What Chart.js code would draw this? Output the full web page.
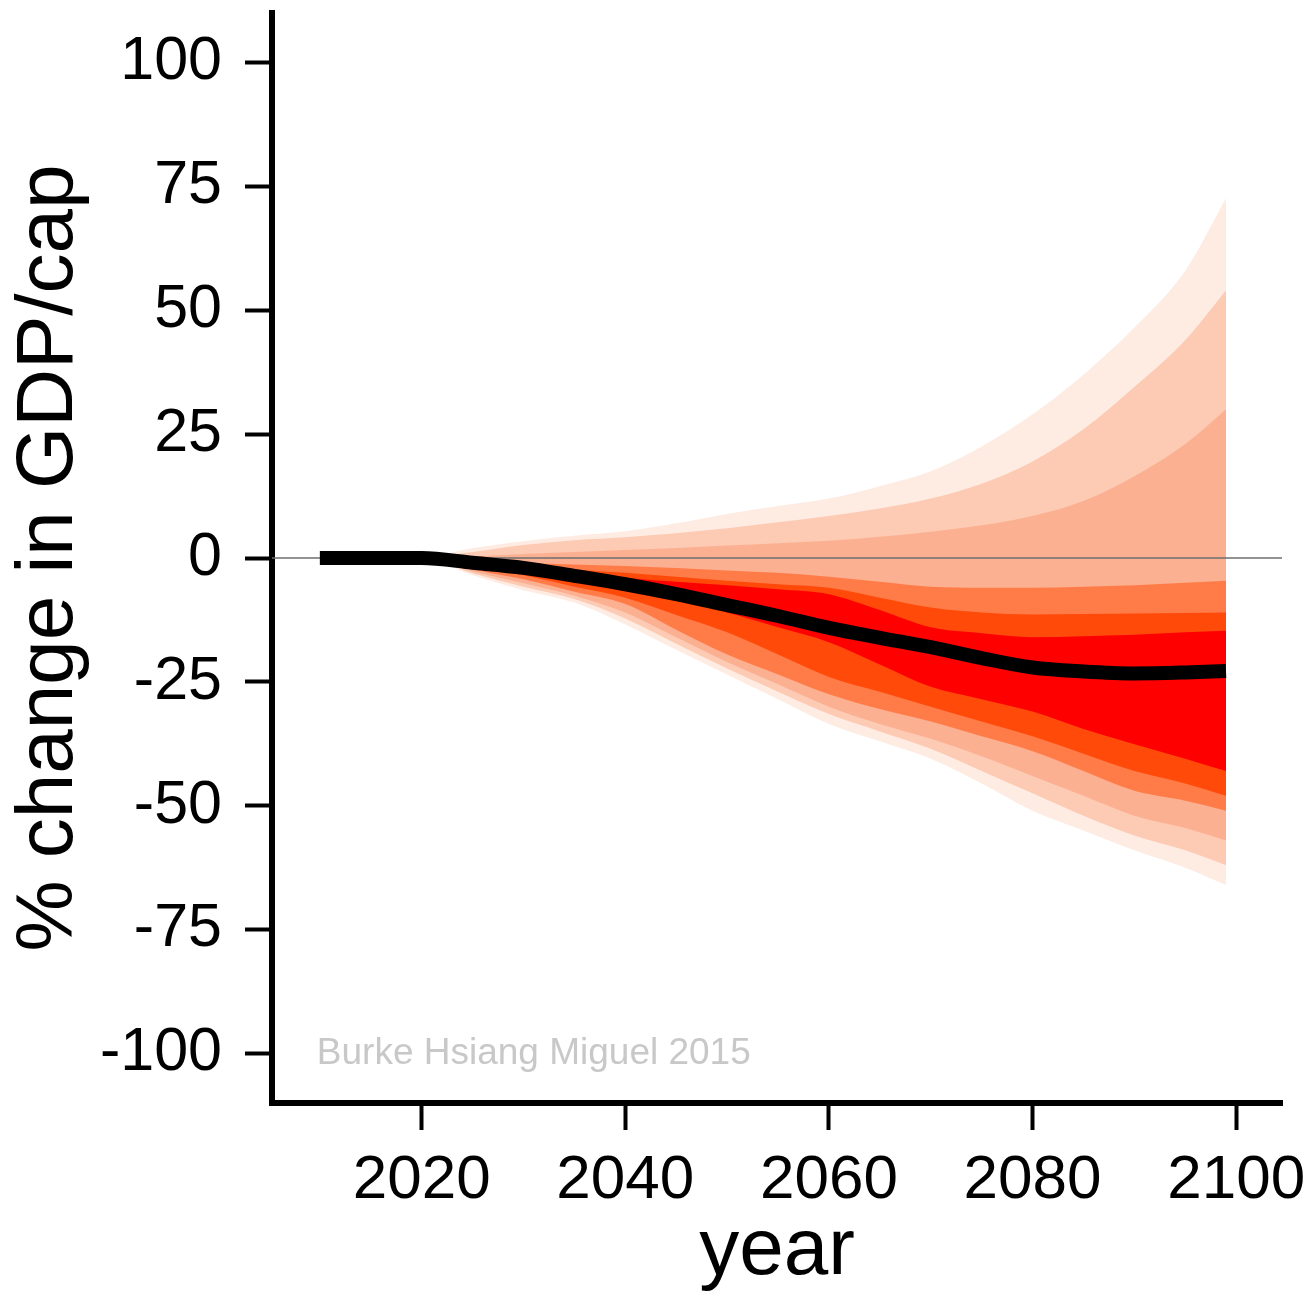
<!DOCTYPE html>
<html>
<head>
<meta charset="utf-8">
<script src="https://cdn.jsdelivr.net/npm/chart.js@4.4.1/dist/chart.umd.min.js"></script>
<style>
  html, body { margin: 0; padding: 0; background: #fff; }
  #wrap { width: 1313px; height: 1292px; }
</style>
</head>
<body>
<div id="wrap"><canvas id="fan"></canvas></div>
<script>
// years sampled along the projection
const years = [2010, 2015, 2020, 2025, 2030, 2035, 2040, 2045, 2050, 2055, 2060, 2065, 2070, 2075, 2080, 2085, 2090, 2095, 2099];

// central estimate, % change in GDP/cap
const median = [0, 0, 0, -0.95, -2, -3.6, -5.3, -7.3, -9.5, -11.7, -14.1, -16.1, -18, -20.2, -22.1, -22.9, -23.3, -23.1, -22.8];

// band edges, outermost (faint) to innermost (red core)
const faintHi  = [0, 0, 0, 2, 3.4, 4.5, 5.4, 7, 8.9, 10.5, 12, 14.5, 17.5, 22.5, 29, 37, 46.5, 58, 72.6];
const faintLo  = [0, 0, 0, -3.5, -6.5, -9, -13.4, -18.5, -23.5, -28.5, -33.5, -37, -40.5, -45.5, -51, -55, -59, -62.5, -66];
const peachHi  = [0, 0, 0, 1.2, 2.6, 3.6, 4.2, 5, 6, 7.2, 8.5, 10, 12, 15, 19.5, 26, 34.5, 44, 54];
const peachLo  = [0, 0, 0, -3.1, -5.8, -8.3, -12.2, -17.3, -22.3, -27, -31.5, -35, -38.5, -43, -47.5, -52, -56, -59, -62];
const salmonHi = [0, 0, 0, 0.3, 0.8, 1.2, 1.6, 2, 2.5, 3, 3.5, 4.3, 5.3, 6.6, 8.5, 11.5, 16.5, 23, 30];
const salmonLo = [0, 0, 0, -2.7, -5.1, -7.6, -11, -16, -21, -25.5, -30, -33.5, -36.5, -40, -44, -48, -52, -54.5, -57];
const orangeHi = [0, 0, 0, -0.5, -1, -1.3, -1.6, -2, -2.5, -3, -3.8, -4.8, -5.8, -6, -6, -5.8, -5.5, -5, -4.6];
const orangeLo = [0, 0, 0, -2.3, -4.3, -6.8, -9.3, -14.5, -19.5, -23.5, -27.5, -30.5, -33, -36, -39, -43, -47, -49, -51];
const redOrHi  = [0, 0, 0, -0.7, -1.5, -2.3, -3, -3.8, -4.6, -5.3, -6, -8, -10, -11, -11.4, -11.3, -11.2, -11.1, -11];
const redOrLo  = [0, 0, 0, -1.8, -3.5, -5.8, -8, -11.5, -15, -19.5, -24, -27, -30, -33, -36, -39.5, -43, -45.5, -48];
const redHi    = [0, 0, 0, -0.8, -1.7, -2.8, -4, -4.8, -5.5, -6.3, -7.3, -10.5, -14, -15.2, -16, -15.8, -15.5, -15, -14.7];
const redLo    = [0, 0, 0, -1.1, -2.3, -4.2, -6.2, -8.5, -11, -14, -17, -21.5, -26, -28.5, -31, -34.5, -37.6, -40.5, -43];

const xTicks = [2020, 2040, 2060, 2080, 2100];
const yTicks = [-100, -75, -50, -25, 0, 25, 50, 75, 100];

const pts = arr => years.map((yr, i) => ({ x: yr, y: arr[i] }));

function edge(arr) {
  return { data: pts(arr), borderWidth: 0, pointRadius: 0, fill: false, cubicInterpolationMode: 'monotone' };
}
function band(hi, lo, color) {
  return [
    Object.assign(edge(hi), { fill: '+1', backgroundColor: color }),
    edge(lo)
  ];
}

const datasets = [
  { data: pts(median), borderColor: '#000', borderWidth: 14, borderCapStyle: 'butt', pointRadius: 0, fill: false, cubicInterpolationMode: 'monotone' },
  ...band(redHi, redLo, '#ff0000'),
  ...band(redOrHi, redOrLo, '#ff4a0a'),
  ...band(orangeHi, orangeLo, '#ff7c48'),
  ...band(salmonHi, salmonLo, '#fcb092'),
  ...band(peachHi, peachLo, '#fdcab3'),
  ...band(faintHi, faintLo, 'rgba(253, 205, 183, 0.4)')
];

// grey zero line, under the black line but over the fan
const zeroLine = {
  id: 'zeroLine',
  beforeDatasetDraw(chart, args) {
    if (args.index !== 0) return;
    const { ctx, chartArea, scales } = chart;
    const y = scales.y.getPixelForValue(0);
    ctx.save();
    ctx.strokeStyle = 'rgba(110,110,110,0.75)';
    ctx.lineWidth = 2;
    ctx.beginPath();
    ctx.moveTo(chartArea.left, y);
    ctx.lineTo(chartArea.right, y);
    ctx.stroke();
    ctx.restore();
  }
};

const credit = {
  id: 'credit',
  afterDraw(chart) {
    const { ctx, scales } = chart;
    ctx.save();
    ctx.font = '37px "Liberation Sans", Arial, sans-serif';
    ctx.fillStyle = '#c8c8c8';
    ctx.textAlign = 'left';
    ctx.textBaseline = 'middle';
    ctx.fillText('Burke Hsiang Miguel 2015', scales.x.getPixelForValue(2009.7), scales.y.getPixelForValue(-100));
    ctx.restore();
  }
};

const font = '"Liberation Sans", Arial, sans-serif';

new Chart(document.getElementById('fan'), {
  type: 'line',
  data: { datasets },
  plugins: [zeroLine, credit],
  options: {
    responsive: true,
    maintainAspectRatio: false,
    animation: false,
    devicePixelRatio: 1,
    layout: { padding: { top: 13, right: 31, bottom: 0, left: 0 } },
    plugins: { legend: { display: false }, tooltip: { enabled: false } },
    scales: {
      x: {
        type: 'linear',
        min: 2005.3,
        max: 2104.5,
        afterBuildTicks: s => { s.ticks = xTicks.map(v => ({ value: v })); },
        afterFit: s => { s.height = 189; s.paddingLeft = 0; s.paddingRight = 0; },
        grid: { drawOnChartArea: false, drawTicks: true, tickLength: 27, tickWidth: 4, tickColor: '#000' },
        border: { display: true, color: '#000', width: 6 },
        ticks: { color: '#000', font: { family: font, size: 62 }, padding: 14, autoSkip: false, maxRotation: 0, callback: v => String(v) },
        title: { display: true, text: 'year', color: '#000', font: { family: font, size: 80, lineHeight: 1 }, padding: { top: 0, bottom: 0 } }
      },
      y: {
        min: -110,
        max: 110,
        afterBuildTicks: s => { s.ticks = yTicks.map(v => ({ value: v })); },
        afterFit: s => { s.width = 272; s.paddingTop = 0; s.paddingBottom = 0; },
        grid: { drawOnChartArea: false, drawTicks: true, tickLength: 27, tickWidth: 4, tickColor: '#000' },
        border: { display: true, color: '#000', width: 6 },
        ticks: { color: '#000', font: { family: font, size: 61 }, padding: 23, autoSkip: false, callback: v => String(v) },
        title: { display: true, text: '% change in GDP/cap', color: '#000', font: { family: font, size: 80, lineHeight: 1 }, padding: { top: 10, bottom: 0 } }
      }
    }
  }
});
</script>
</body>
</html>
